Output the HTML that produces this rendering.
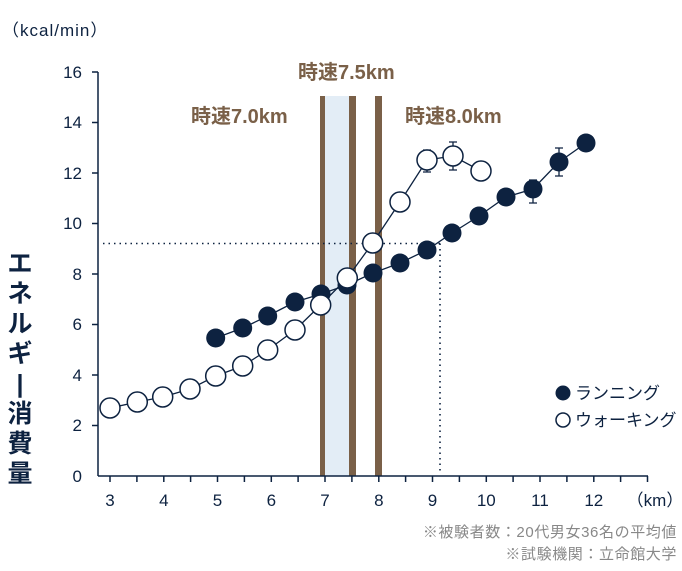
<!DOCTYPE html>
<html><head><meta charset="utf-8"><style>
html,body{margin:0;padding:0;background:#fff}
svg{display:block}
text{font-family:"Liberation Sans","Noto Sans CJK JP",sans-serif}
</style></head><body>
<svg width="682" height="571" viewBox="0 0 682 571" xmlns="http://www.w3.org/2000/svg">
<text x="2" y="36" font-size="17" fill="#0d2240" letter-spacing="1">（kcal/min）</text>
<rect x="325" y="96" width="24" height="380" fill="#e3edf6"/>
<rect x="320" y="96" width="5" height="380" fill="#7a6048"/>
<rect x="349" y="96" width="7" height="380" fill="#7a6048"/>
<rect x="375" y="96" width="7" height="380" fill="#7a6048"/>
<g font-weight="bold" font-size="20" fill="#7a6048">
<text x="298" y="79">時速7.5km</text>
<text x="191" y="123">時速7.0km</text>
<text x="405" y="123">時速8.0km</text>
</g>
<g stroke="#0d2240" stroke-width="1.5" fill="none">
<line x1="98" y1="72" x2="98" y2="476"/>
<line x1="98" y1="476" x2="648" y2="476"/>
<path d="M92 72H98M92 122.5H98M92 173H98M92 223.5H98M92 274H98M92 324.5H98M92 375H98M92 425.5H98"/>
<path d="M110 476v6M136.9 476v6M163.8 476v6M190.6 476v6M217.5 476v6M244.4 476v6M271.3 476v6M298.1 476v6M325 476v6M351.9 476v6M378.8 476v6M405.6 476v6M432.5 476v6M459.4 476v6M486.3 476v6M513.1 476v6M540 476v6M566.9 476v6M593.8 476v6M620.6 476v6M647.5 476v6"/>
</g>
<g font-size="17" fill="#0d2240" text-anchor="end">
<text x="82" y="78">16</text><text x="82" y="128">14</text><text x="82" y="179">12</text><text x="82" y="229">10</text>
<text x="82" y="280">8</text><text x="82" y="330">6</text><text x="82" y="381">4</text><text x="82" y="431">2</text><text x="82" y="482">0</text>
</g>
<g font-size="17" fill="#0d2240" text-anchor="middle">
<text x="110" y="506">3</text><text x="163.8" y="506">4</text><text x="217.5" y="506">5</text><text x="271.3" y="506">6</text>
<text x="325" y="506">7</text><text x="378.8" y="506">8</text><text x="432.5" y="506">9</text><text x="486.3" y="506">10</text>
<text x="540" y="506">11</text><text x="593.8" y="506">12</text><text x="655" y="506">（km）</text>
</g>
<g font-size="25" font-weight="bold" fill="#0d2240" text-anchor="middle">
<text x="20" y="272">エ</text><text x="20" y="302">ネ</text><text x="20" y="332">ル</text><text x="20" y="362">ギ</text>
<text x="20" y="392">|</text><text x="20" y="422">消</text><text x="20" y="452">費</text><text x="20" y="482">量</text>
</g>
<g stroke="#0d2240" stroke-width="1.6" stroke-dasharray="1.5 4" fill="none">
<line x1="103" y1="243.5" x2="440" y2="243.5"/>
<line x1="440" y1="243.5" x2="440" y2="472"/>
</g>
<g stroke="#0d2240" stroke-width="1.3">
<path d="M427 150V172M423 150H431M423 172H431"/>
<path d="M453 142V170M449 142H457M449 170H457"/>
<path d="M533 180V203M529 180H537M529 203H537"/>
<path d="M559 148V176M555 148H563M555 176H563"/>
</g>
<polyline fill="none" stroke="#0d2240" stroke-width="1.3" points="215.7,338 242.7,328 267.7,316 295,302 321,294 347,285 373,273 400,263 427,250 452,233 479,216 506,197 533,189 559,162 586,143"/>
<g fill="#0d2240">
<circle cx="215.7" cy="338" r="9.5"/><circle cx="242.7" cy="328" r="9.5"/><circle cx="267.7" cy="316" r="9.5"/><circle cx="295" cy="302" r="9.5"/>
<circle cx="321" cy="294" r="9.5"/><circle cx="347" cy="285" r="9.5"/><circle cx="373" cy="273" r="9.5"/><circle cx="400" cy="263" r="9.5"/>
<circle cx="427" cy="250" r="9.5"/><circle cx="452" cy="233" r="9.5"/><circle cx="479" cy="216" r="9.5"/><circle cx="506" cy="197" r="9.5"/>
<circle cx="533" cy="189" r="9.5"/><circle cx="559" cy="162" r="9.5"/><circle cx="586" cy="143" r="9.5"/>
</g>
<polyline fill="none" stroke="#0d2240" stroke-width="1.3" points="110,408 137.3,402 162.7,397 190,389 215.7,376 242.7,366 267.7,350 295,330 320.7,305 347.3,278 372.7,243 400,202 427,160 453,156 481,171"/>
<g fill="#fff" stroke="#0d2240" stroke-width="1.5">
<circle cx="110" cy="408" r="10"/><circle cx="137.3" cy="402" r="10"/><circle cx="162.7" cy="397" r="10"/><circle cx="190" cy="389" r="10"/>
<circle cx="215.7" cy="376" r="10"/><circle cx="242.7" cy="366" r="10"/><circle cx="267.7" cy="350" r="10"/><circle cx="295" cy="330" r="10"/>
<circle cx="320.7" cy="305" r="10"/><circle cx="347.3" cy="278" r="10"/><circle cx="372.7" cy="243" r="10"/><circle cx="400" cy="202" r="10"/>
<circle cx="427" cy="160" r="10"/><circle cx="453" cy="156" r="10"/><circle cx="481" cy="171" r="10"/>
</g>
<circle cx="563" cy="393" r="7.5" fill="#0d2240"/>
<circle cx="563" cy="420" r="7" fill="#fff" stroke="#0d2240" stroke-width="1.5"/>
<g font-size="17" fill="#0d2240">
<text x="575" y="399">ランニング</text>
<text x="575" y="426">ウォーキング</text>
</g>
<g font-size="15" fill="#888" text-anchor="end" letter-spacing="0.6">
<text x="677" y="537">※被験者数：20代男女36名の平均値</text>
<text x="677" y="559">※試験機関：立命館大学</text>
</g>
</svg>
</body></html>
